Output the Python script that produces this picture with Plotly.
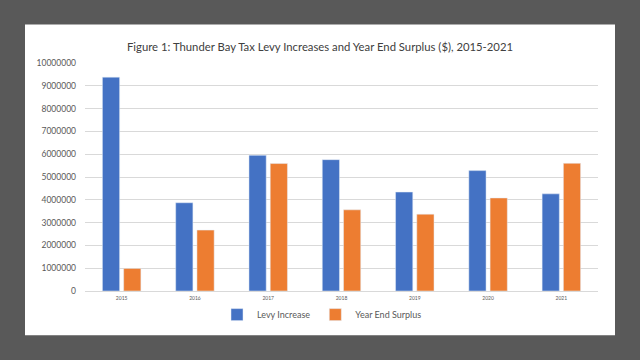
import plotly.graph_objects as go

years = ["2015", "2016", "2017", "2018", "2019", "2020", "2021"]
levy_increase = [9380000, 3870000, 5950000, 5760000, 4340000, 5280000, 4260000]
year_end_surplus = [990000, 2670000, 5590000, 3560000, 3370000, 4080000, 5600000]
y_ticks = [0, 1000000, 2000000, 3000000, 4000000, 5000000, 6000000, 7000000, 8000000, 9000000, 10000000]

FONT = "Lato, 'Liberation Sans', sans-serif"
GREY = "#595959"

fig = go.Figure()
fig.add_trace(go.Bar(x=years, y=levy_increase, name="Levy Increase", marker_color="#4472C4"))
fig.add_trace(go.Bar(x=years, y=year_end_surplus, name="Year End Surplus", marker_color="#ED7D31"))

# plot area geometry (pixels)
L, R, T, B = 85, 598, 62.7, 290.7
W, H = R - L, B - T

def px_x(p):
    return (p - L) / W

def px_y(p):
    return (B - p) / H

fig.add_shape(type="rect", xref="paper", yref="paper",
              x0=px_x(25), x1=px_x(615), y0=px_y(335), y1=px_y(24.3),
              fillcolor="white", line_width=0, layer="below")

fig.update_layout(
    width=640, height=360,
    margin=dict(l=L, r=640 - R, t=T, b=360 - B),
    paper_bgcolor="#595959",
    plot_bgcolor="white",
    barmode="group",
    bargap=0.42,
    bargroupgap=0.19,
    font=dict(family=FONT, color=GREY),
    title=dict(text="Figure 1: Thunder Bay Tax Levy Increases and Year End Surplus ($), 2015-2021",
               x=0.5, xref="container", xanchor="center",
               y=1 - 47 / 360, yref="container", yanchor="middle",
               font=dict(family=FONT, size=11.3, color="#404040")),
    legend=dict(orientation="h", x=px_x(322), xanchor="center", y=px_y(314.3), yanchor="middle",
                font=dict(family=FONT, size=9, color=GREY), bgcolor="rgba(0,0,0,0)",
                itemwidth=30),
    showlegend=True,
)
fig.update_yaxes(range=[0, 10000000], tickvals=y_ticks, ticktext=[str(v) for v in y_ticks],
                 showgrid=True, gridcolor="#d9d9d9", gridwidth=1,
                 zeroline=False, showline=False, ticks="",
                 tickfont=dict(family=FONT, size=8.5, color=GREY), ticklabelstandoff=8)
fig.update_xaxes(showgrid=False, showline=True, linecolor="#d9d9d9", linewidth=1,
                 ticks="", tickfont=dict(family=FONT, size=5, color=GREY), ticklabelstandoff=2)

fig.write_html("out.html", config={"displayModeBar": False},
               post_script="document.body.style.margin='0';document.body.style.padding='0';")
